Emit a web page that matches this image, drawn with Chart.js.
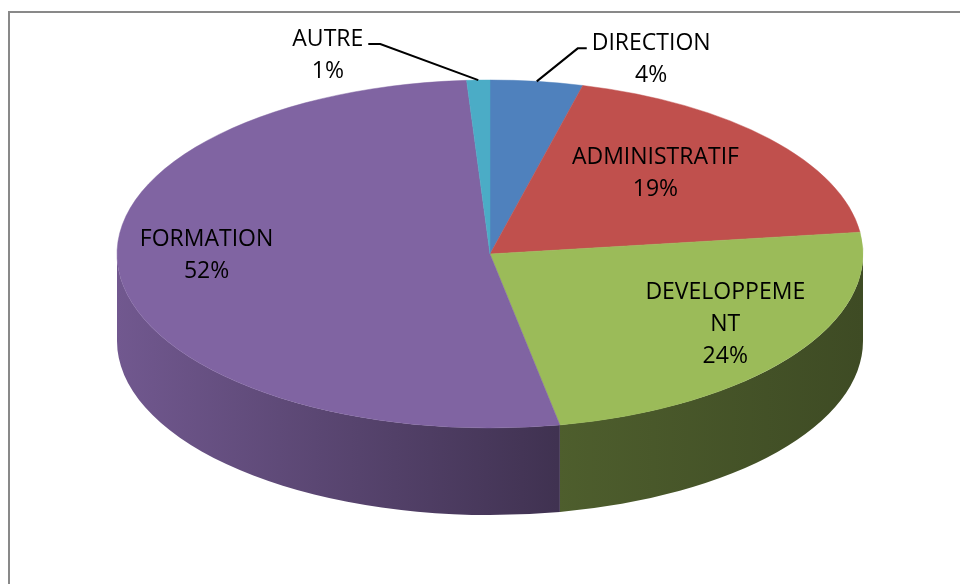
<!DOCTYPE html>
<html>
<head>
<meta charset="utf-8">
<script src="https://cdn.jsdelivr.net/npm/chart.js@4.4.1/dist/chart.umd.min.js"></script>
<style>
  html, body { margin: 0; padding: 0; background: #fff; }
  #wrap { position: relative; width: 960px; height: 584px; overflow: hidden; }
  #frame {
    position: absolute; left: 8px; top: 11px; width: 1000px; height: 700px;
    border: 2px solid #898989; box-sizing: border-box;
  }
  canvas { position: absolute; left: 0; top: 0; }
</style>
</head>
<body>
<div id="wrap">
  <div id="frame"></div>
  <canvas id="chart" width="960" height="584"></canvas>
</div>
<script>
// Data
const categories = ["DIRECTION", "ADMINISTRATIF", "DEVELOPPEMENT", "FORMATION", "AUTRE"];
const values = [4, 19, 24, 52, 1];
const colors = ["#4F81BD", "#C0504D", "#9BBB59", "#8064A2", "#4BACC6"];

// Tilted pie geometry (where the flat pie gets projected on the page)
const pie = { cx: 490, cy: 254, rx: 373, ry: 174, depth: 87 };
// label placement: leader lines for the small slices, nudges for the others
const outsideLabels = { 0: { dx: 41, dy: -33, run: 9 }, 4: { dx: -98, dy: -36, run: -12 } };
const insideNudge = { 1: [-36, 2], 2: [18, -3], 3: [-17, -14] };
const labelFont = '23px "Open Sans"';
const lineHeight = 32;
const wrapWidth = 172;

const shade = (hex, f) => {
  const n = parseInt(hex.slice(1), 16);
  const r = Math.round(((n >> 16) & 255) * f);
  const g = Math.round(((n >> 8) & 255) * f);
  const b = Math.round((n & 255) * f);
  return `rgb(${r},${g},${b})`;
};

const ellipsePoint = (angle, k) => ({
  x: pie.cx + pie.rx * k * Math.cos(angle),
  y: pie.cy + pie.ry * k * Math.sin(angle),
});

// Break a label into lines when it is too wide (Excel style, by characters)
const wrapText = (ctx, text) => {
  const lines = [];
  let cur = "";
  for (const ch of text) {
    if (cur && ctx.measureText(cur + ch).width > wrapWidth) {
      lines.push(cur);
      cur = ch;
    } else {
      cur += ch;
    }
  }
  if (cur) lines.push(cur);
  return lines;
};

const pie3d = {
  id: "pie3d",
  beforeDatasetsDraw(chart) {
    const ctx = chart.ctx;
    const arcs = chart.getDatasetMeta(0).data;

    // side walls (front half of the rim only)
    arcs.forEach((arc, i) => {
      const a = Math.max(arc.startAngle, 0);
      const b = Math.min(arc.endAngle, Math.PI);
      if (a >= b) return;
      const grad = ctx.createLinearGradient(pie.cx - pie.rx, 0, pie.cx + pie.rx, 0);
      grad.addColorStop(0, shade(colors[i], 0.88));
      grad.addColorStop(0.59, shade(colors[i], 0.5));
      grad.addColorStop(1, shade(colors[i], 0.4));
      ctx.save();
      ctx.beginPath();
      ctx.ellipse(pie.cx, pie.cy, pie.rx, pie.ry, 0, a, b);
      ctx.ellipse(pie.cx, pie.cy + pie.depth, pie.rx, pie.ry, 0, b, a, true);
      ctx.closePath();
      ctx.fillStyle = grad;
      ctx.fill();
      ctx.restore();
    });

    // squash the flat pie into the top face
    const first = arcs[0];
    const R = first.outerRadius;
    ctx.save();
    ctx.translate(pie.cx, pie.cy);
    ctx.scale(pie.rx / R, pie.ry / R);
    ctx.translate(-first.x, -first.y);
  },
  afterDatasetsDraw(chart) {
    const ctx = chart.ctx;
    ctx.restore();

    const arcs = chart.getDatasetMeta(0).data;
    const total = values.reduce((s, v) => s + v, 0);
    ctx.save();
    ctx.font = labelFont;
    ctx.fillStyle = "#000";
    ctx.textAlign = "center";
    ctx.textBaseline = "middle";

    arcs.forEach((arc, i) => {
      const mid = (arc.startAngle + arc.endAngle) / 2;
      const lines = wrapText(ctx, categories[i]);
      lines.push(Math.round((values[i] / total) * 100) + "%");
      const maxW = Math.max(...lines.map((l) => ctx.measureText(l).width));
      const out = outsideLabels[i];

      if (out) {
        const rim = ellipsePoint(mid, 1);
        const elbow = { x: rim.x + out.dx, y: rim.y + out.dy };
        const endX = elbow.x + out.run;
        ctx.beginPath();
        ctx.moveTo(rim.x, rim.y);
        ctx.lineTo(elbow.x, elbow.y);
        ctx.lineTo(endX, elbow.y);
        ctx.strokeStyle = "#000";
        ctx.lineWidth = 2;
        ctx.stroke();
        const tx = out.run > 0 ? endX + 5 + maxW / 2 : endX - 5 - maxW / 2;
        lines.forEach((l, k) => ctx.fillText(l, tx, elbow.y - 5 + k * lineHeight));
      } else {
        const p = ellipsePoint(mid, 0.72);
        const nudge = insideNudge[i] || [0, 0];
        const x = p.x + nudge[0];
        const y0 = p.y + nudge[1] - ((lines.length - 1) * lineHeight) / 2;
        lines.forEach((l, k) => ctx.fillText(l, x, y0 + k * lineHeight));
      }
    });
    ctx.restore();
  },
};

new Chart(document.getElementById("chart"), {
  type: "pie",
  data: {
    labels: categories,
    datasets: [
      {
        data: values,
        backgroundColor: colors,
        borderColor: colors,
        borderWidth: 0.5,
        clip: false,
      },
    ],
  },
  options: {
    responsive: false,
    animation: false,
    plugins: {
      legend: { display: false },
      tooltip: { enabled: false },
    },
  },
  plugins: [pie3d],
});
</script>
</body>
</html>
